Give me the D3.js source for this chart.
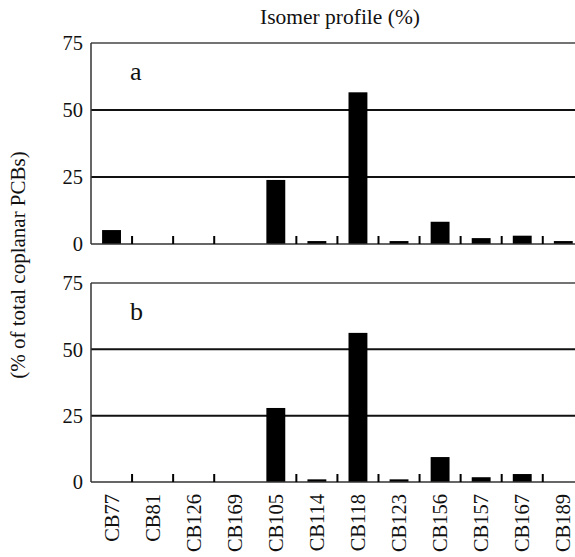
<!DOCTYPE html>
<html>
<head>
<meta charset="utf-8">
<script src="https://cdn.jsdelivr.net/npm/d3@7"></script>
<style>
  html, body { margin: 0; padding: 0; background: #fff; }
  svg { display: block; }
</style>
</head>
<body>
<svg id="chart" width="575" height="557"></svg>
<script>
// ---- data ----
const categories = ["CB77","CB81","CB126","CB169","CB105","CB114","CB118","CB123","CB156","CB157","CB167","CB189"];
const valuesA = [5.2, 0, 0, 0, 23.9, 1.1, 56.6, 1.1, 8.3, 2.2, 3.1, 1.1];
const valuesB = [0, 0, 0, 0, 27.9, 1.0, 56.2, 1.0, 9.4, 1.8, 3.0, 0];
const yTicks = [0, 25, 50, 75];
const panelLabels = ["a", "b"];
const noTickBefore = ["CB77", "CB105"];
const title = "Isomer profile (%)";
const yTitle = "(% of total coplanar PCBs)";

// ---- layout ----
const W = 575;
const left = 91, bandW = 41.07;
const FONT = "Liberation Serif";
const svg = d3.select("#chart");

const x = d3.scaleBand()
  .domain(categories)
  .range([left, left + bandW * categories.length])
  .padding(0);
const barW = x.bandwidth() * 0.46;

const panels = [
  { label: panelLabels[0], values: valuesA, top: 43, bottom: 244 },
  { label: panelLabels[1], values: valuesB, top: 283, bottom: 482 }
];

panels.forEach(p => {
  const y = d3.scaleLinear().domain([0, 75]).range([p.bottom, p.top]);
  const g = svg.append("g");

  g.selectAll("line.grid")
    .data(yTicks.filter(t => t > 0))
    .join("line")
    .attr("class", "grid")
    .attr("x1", left).attr("x2", W)
    .attr("y1", d => y(d)).attr("y2", d => y(d))
    .attr("stroke", d => d === 75 ? "#444" : "#111")
    .attr("stroke-width", d => d === 75 ? 1.5 : 2);

  g.append("line")
    .attr("x1", left).attr("x2", left)
    .attr("y1", y(75)).attr("y2", y(0))
    .attr("stroke", "#333").attr("stroke-width", 1.5);

  g.selectAll("text.ytick")
    .data(yTicks)
    .join("text")
    .attr("class", "ytick")
    .attr("x", left - 8)
    .attr("y", d => y(d))
    .attr("dy", "0.35em")
    .attr("text-anchor", "end")
    .attr("font-family", FONT)
    .attr("font-size", 20.5)
    .attr("fill", "#111")
    .text(d => d);

  g.selectAll("rect.bar")
    .data(categories.map((c, i) => ({ c, v: p.values[i] })).filter(d => d.v > 0))
    .join("rect")
    .attr("class", "bar")
    .attr("x", d => x(d.c) + (x.bandwidth() - barW) / 2)
    .attr("width", barW)
    .attr("y", d => y(d.v))
    .attr("height", d => y(0) - y(d.v))
    .attr("fill", "#000");

  g.append("line")
    .attr("x1", left).attr("x2", W)
    .attr("y1", y(0)).attr("y2", y(0))
    .attr("stroke", "#333").attr("stroke-width", 1.5);

  g.selectAll("line.xtick")
    .data(categories.filter(c => !noTickBefore.includes(c)))
    .join("line")
    .attr("class", "xtick")
    .attr("x1", d => x(d)).attr("x2", d => x(d))
    .attr("y1", y(0)).attr("y2", y(0) - 8)
    .attr("stroke", "#000").attr("stroke-width", 2);

  g.append("text")
    .attr("x", 130)
    .attr("y", p.top + 37)
    .attr("font-family", FONT)
    .attr("font-size", 26)
    .attr("fill", "#111")
    .text(p.label);
});

const bottomY = panels[1].bottom;
svg.append("g").selectAll("text.cat")
  .data(categories)
  .join("text")
  .attr("class", "cat")
  .attr("transform", d => `translate(${x(d) + x.bandwidth() / 2},${bottomY + 12}) rotate(-90)`)
  .attr("dy", "0.35em")
  .attr("text-anchor", "end")
  .attr("font-family", FONT)
  .attr("font-size", 20.5)
  .attr("fill", "#111")
  .text(d => d);

svg.append("text")
  .attr("x", 340).attr("y", 23.5)
  .attr("text-anchor", "middle")
  .attr("font-family", FONT)
  .attr("font-size", 21.5)
  .attr("fill", "#111")
  .text(title);

svg.append("text")
  .attr("transform", "translate(25,265) rotate(-90)")
  .attr("text-anchor", "middle")
  .attr("font-family", FONT)
  .attr("font-size", 21)
  .attr("fill", "#111")
  .text(yTitle);
</script>
</body>
</html>
